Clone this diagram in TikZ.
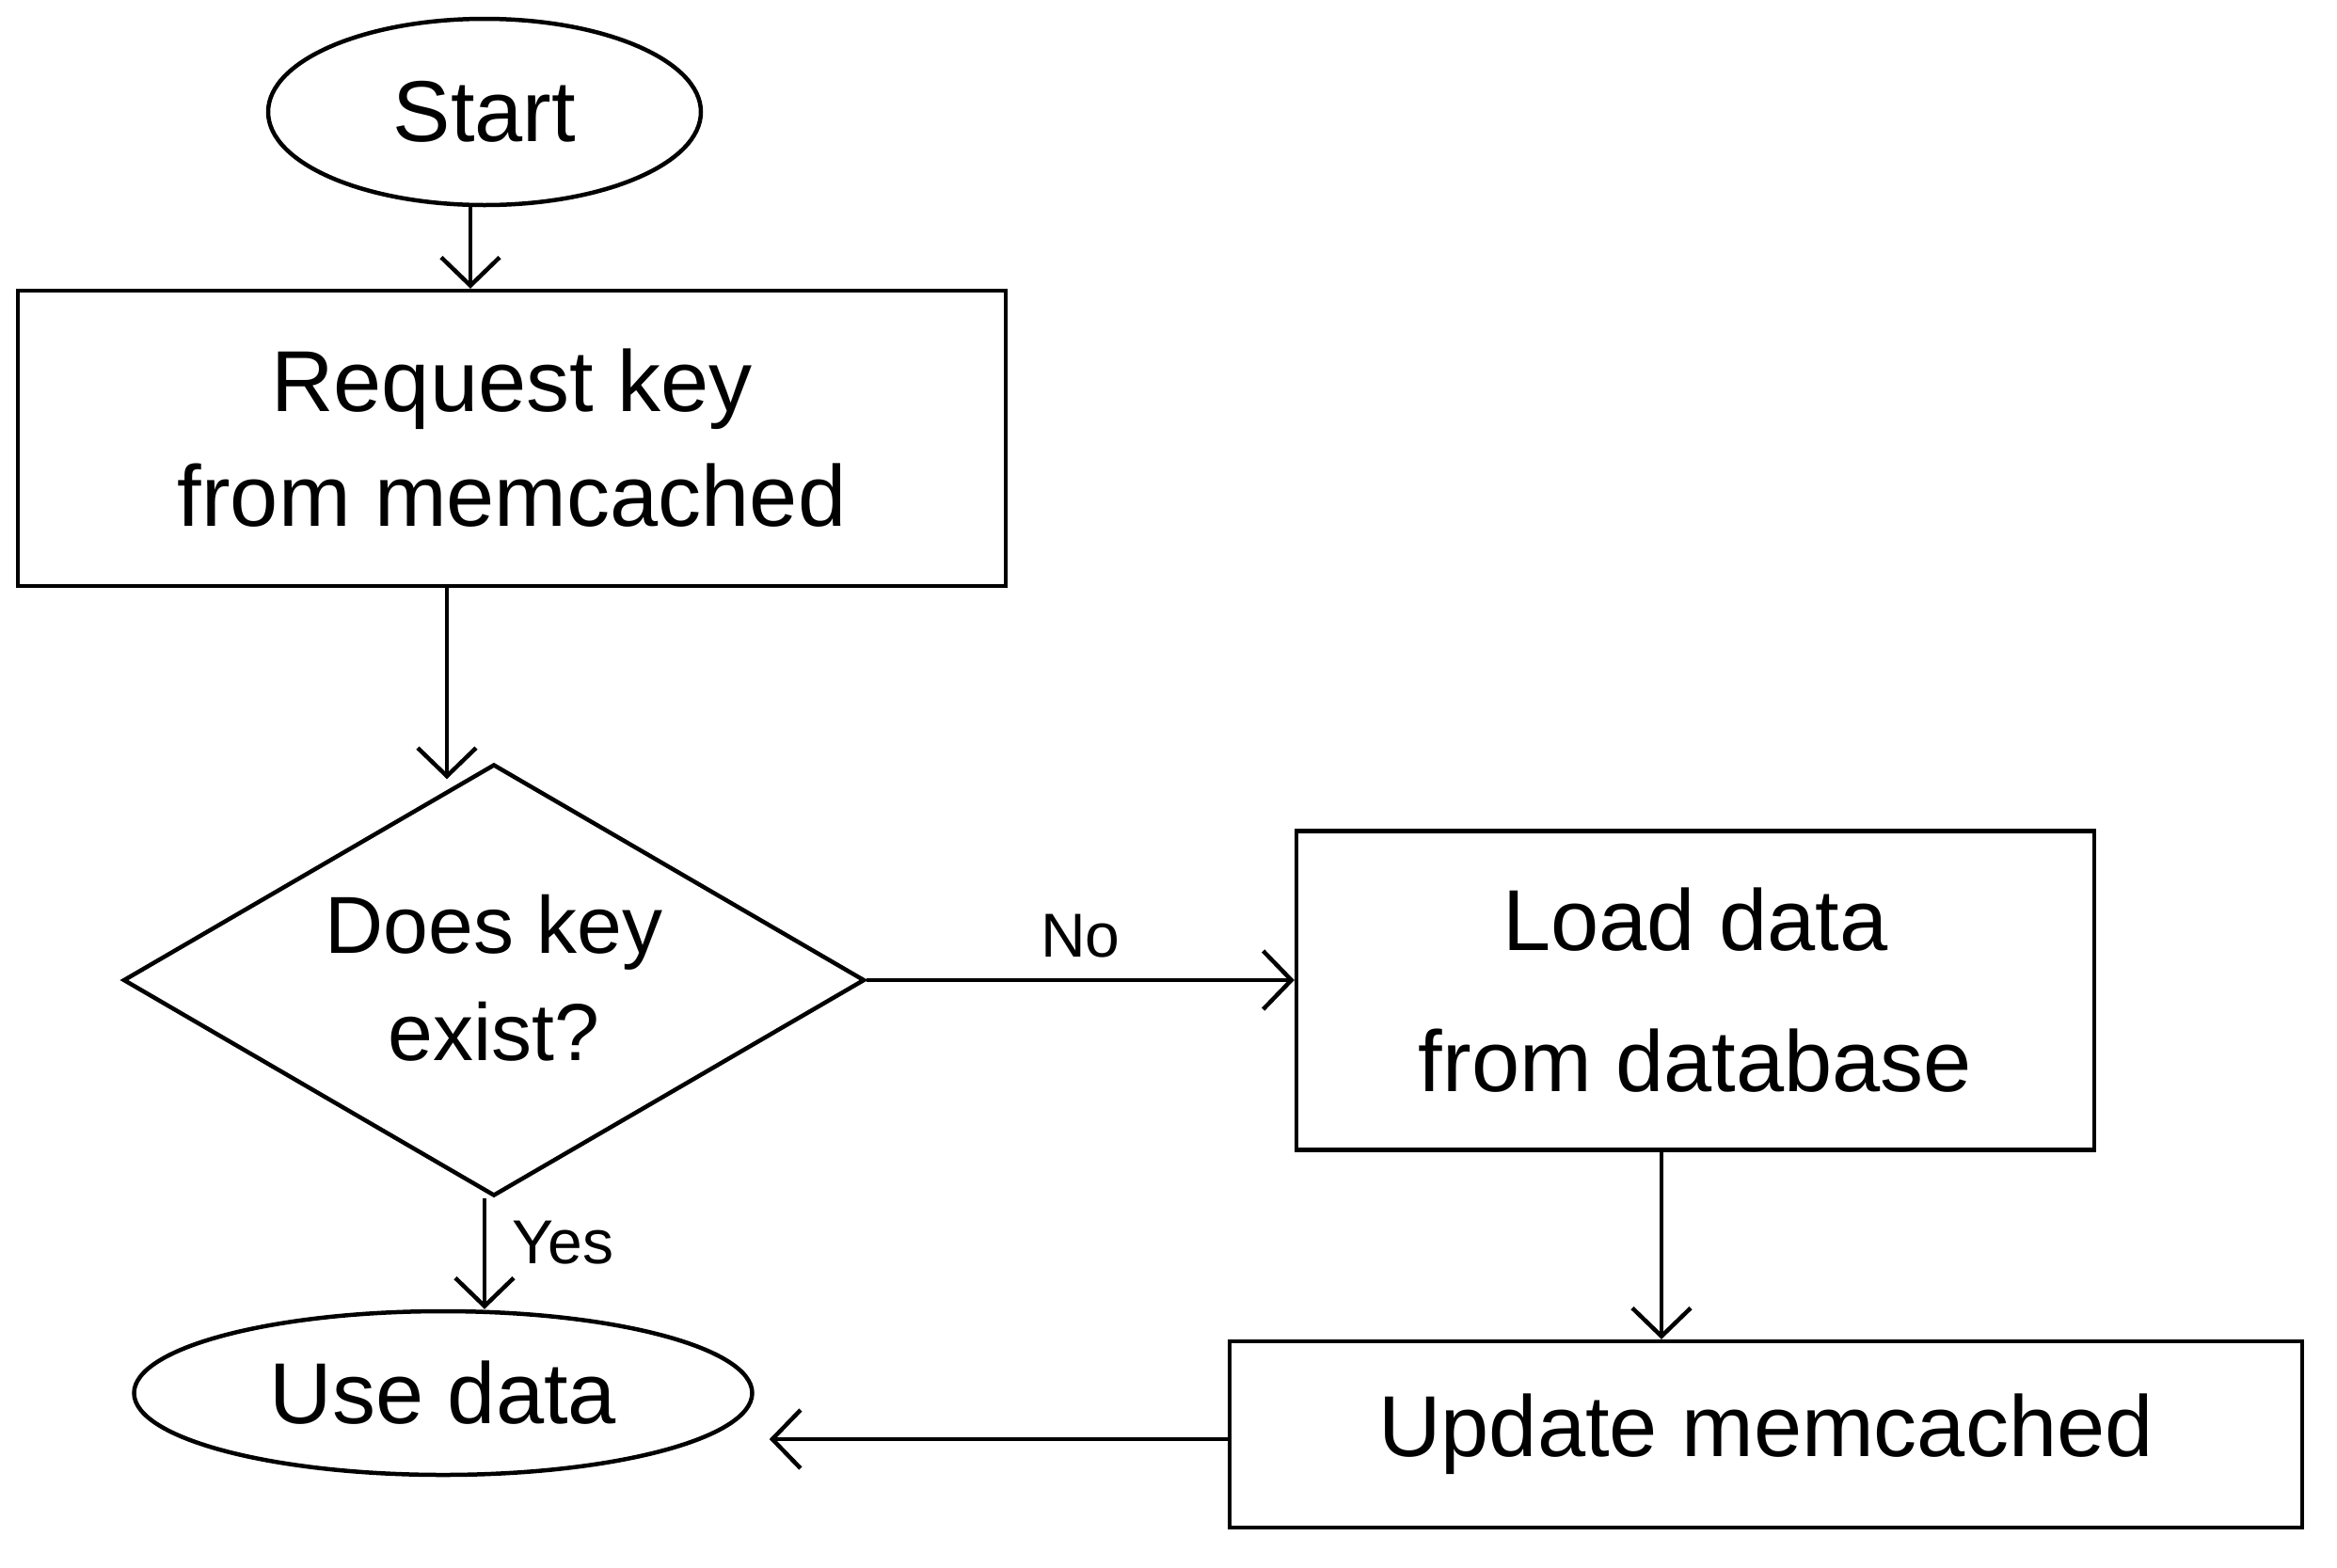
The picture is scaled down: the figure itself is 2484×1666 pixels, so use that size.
\documentclass[tikz,border=0pt]{standalone}
\usepackage{fontspec}
\setmainfont{Liberation Sans}
\usetikzlibrary{shapes.geometric,arrows.meta}
\begin{document}
\begin{tikzpicture}[x=1pt,y=-1pt,
  every path/.style={line width=4.5pt},
  big/.style={font=\fontsize{92}{122}\selectfont, align=center},
  small/.style={font=\fontsize{66}{74}\selectfont},
  oval/.style={draw, ellipse, inner sep=0pt, big, line width=4.5pt},
  boxnode/.style={draw, rectangle, inner sep=0pt, big, line width=4.5pt},
  arr/.style={-{Straight Barb[length=30pt,width=62pt,line width=4.5pt]}, line width=4.5pt}
]
\useasboundingbox (0,0) rectangle (2484,1666);
\node[oval, minimum width=460, minimum height=198] (start) at (515,119) {Start};
\node[boxnode, minimum width=1050, minimum height=314] (req) at (544,466) {Request key\\from memcached};
\node[draw, diamond, minimum width=788, minimum height=459, inner sep=0pt, line width=4.5pt] (dia) at (525,1042) {};
\node[big, font=\fontsize{86}{114}\selectfont] (diatext) at (525,1040) {Does key\\exist?};
\node[boxnode, minimum width=848, minimum height=339, font=\fontsize{92}{150}\selectfont] (load) at (1802,1053) {Load data\\from database};
\node[boxnode, minimum width=1140, minimum height=198] (upd) at (1877,1525) {Update memcached};
\node[oval, minimum width=657, minimum height=174] (use) at (471,1481) {Use data};
\draw[arr] ([xshift=-15pt]start.south) -- ([xshift=-15pt]start.south |- req.north);
\draw[arr] ([xshift=-50pt]req.south -| dia.north) -- ([xshift=-50pt,yshift=-18pt]dia.north);
\draw[arr] ([xshift=-10pt]dia.south) -- node[small, right=24pt, pos=0.4] (yes) {Yes} ([xshift=-10pt]dia.south |- use.north);
\draw[arr] (dia.east) -- node[small, above=18pt] (no) {No} (dia.east -| load.west);
\draw[arr] ([xshift=-36pt]load.south) -- ([xshift=-36pt]load.south |- upd.north);
\draw[arr] ([yshift=-5pt]upd.west) -- ([yshift=-5pt,xshift=16pt]upd.west -| use.east);
\end{tikzpicture}
\end{document}
